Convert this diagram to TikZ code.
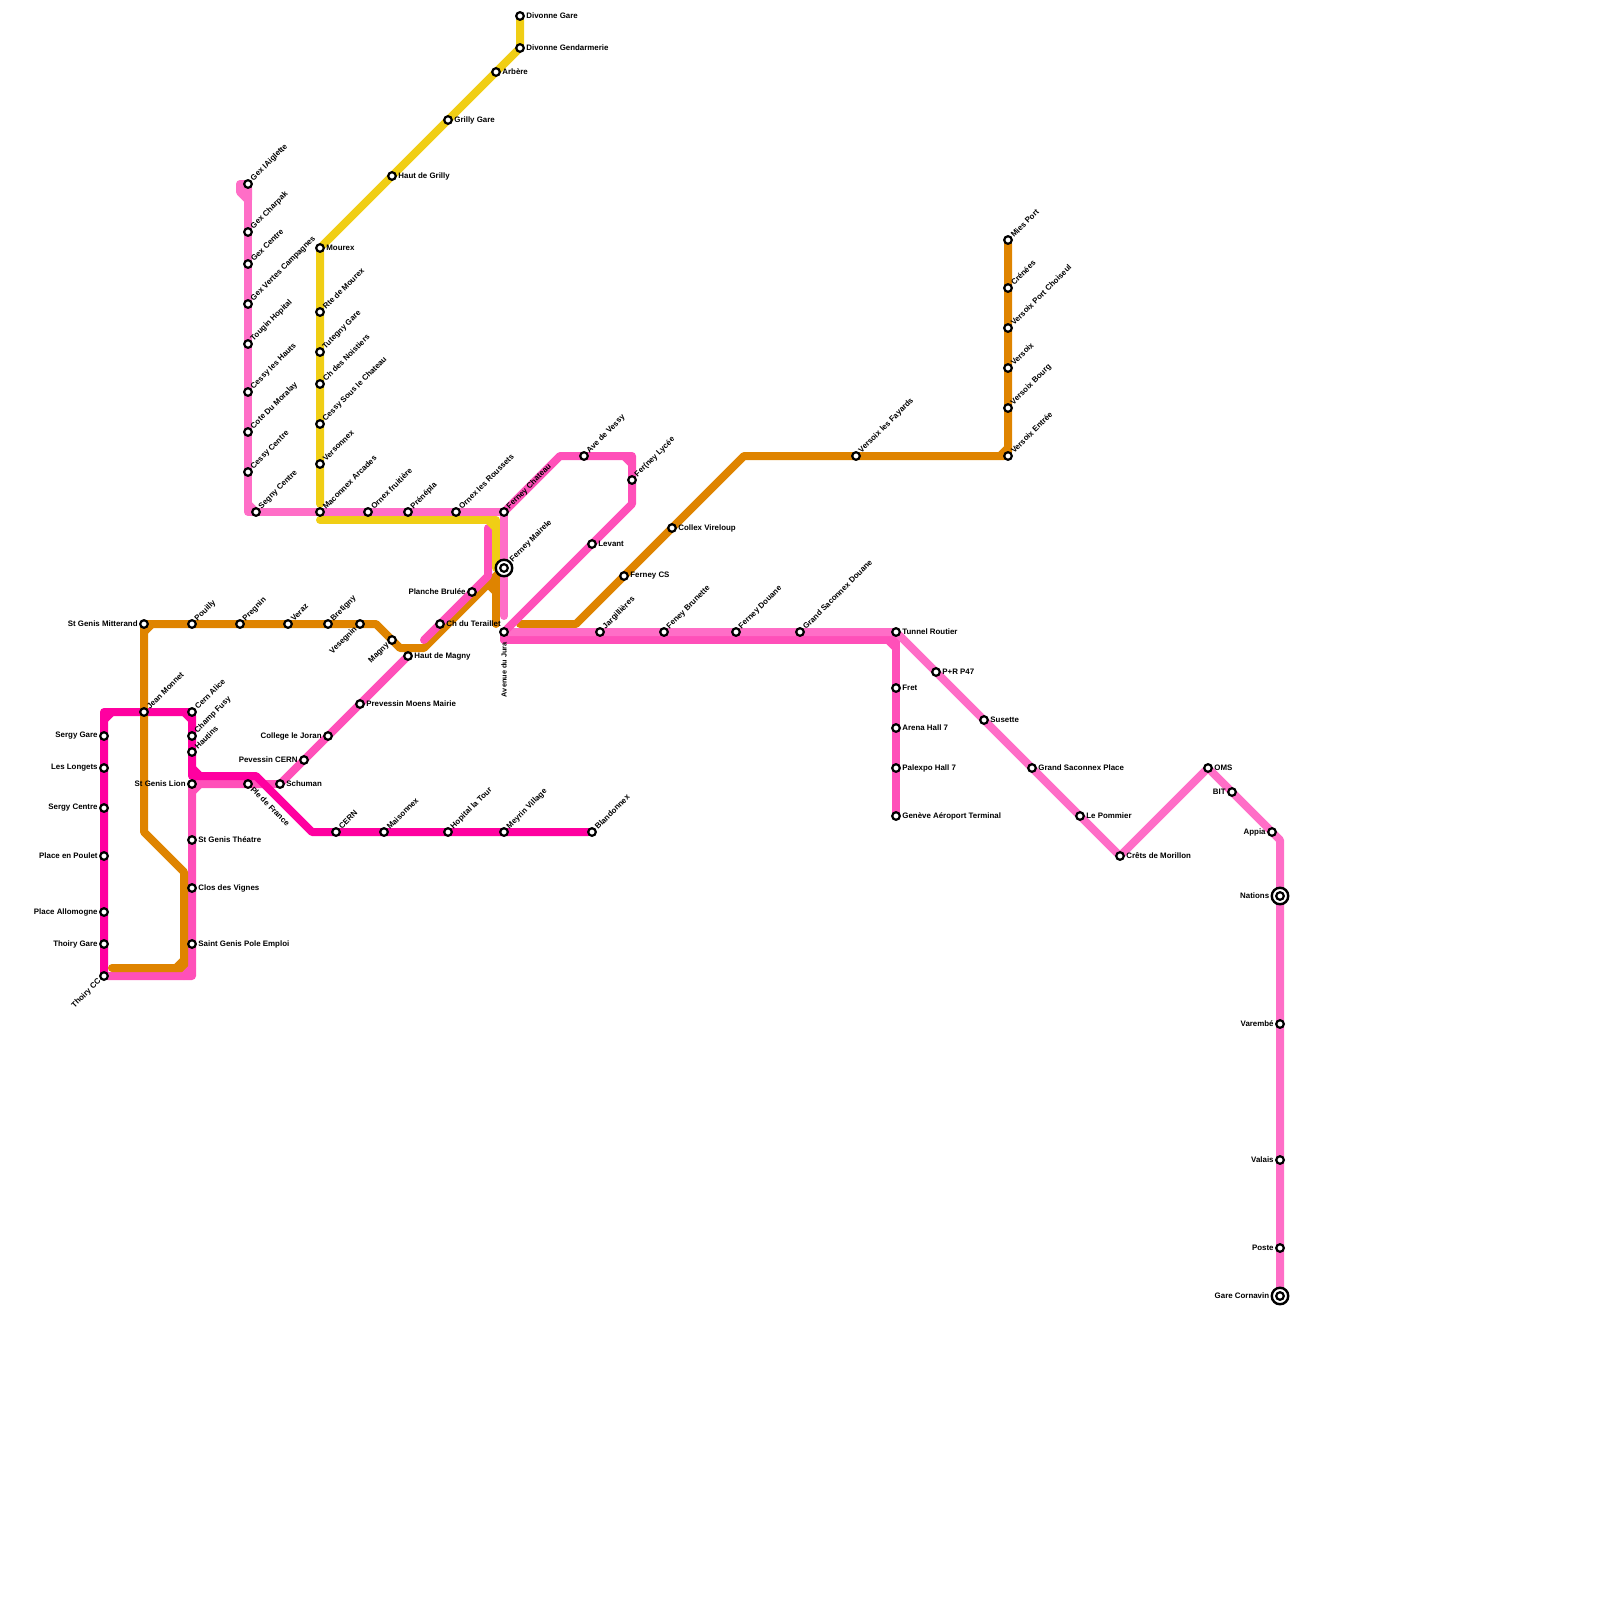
\documentclass[tikz,border=0pt]{standalone}
\usepackage{fontspec}
\setmainfont{Liberation Sans}
\usetikzlibrary{backgrounds}
\definecolor{hotpink}{RGB}{255, 0, 160}
\definecolor{lightpink}{RGB}{255, 110, 199}
\definecolor{midpink}{RGB}{255, 80, 185}
\definecolor{lineorange}{RGB}{223, 132, 0}
\definecolor{lineyellow}{RGB}{240, 206, 21}

\begin{document}
\begin{tikzpicture}[
      x=1pt, y=-1pt,
      stn/.style={circle, draw=black, fill=white, line width=2.2pt,
                  minimum size=7.6pt, inner sep=0pt, outer sep=0pt},
      stnx/.style={stn, minimum size=16.5pt, line width=2.4pt},
      lbl/.style={inner sep=0pt, font=\bfseries\fontsize{7.9}{9}\selectfont},
      lbr/.style={lbl, xshift=2.4pt},
      lbw/.style={lbl, xshift=-2.4pt},
      lbu/.style={lbl, xshift=1.4pt, yshift=1.4pt, rotate=45, anchor=west},
      lbd/.style={lbl, xshift=-1.4pt, yshift=-1.4pt, rotate=45, anchor=east},
      lbs/.style={lbl, xshift=1.2pt, yshift=-1.2pt, rotate=-45, anchor=west},
      lbv/.style={lbl, yshift=-6.5pt, rotate=90, anchor=east,
                  font=\bfseries\fontsize{7.3}{9}\selectfont},
      metro/.style={line width=8pt, line cap=round, line join=round},
      hotline/.style={metro, color=hotpink},
      lightline/.style={metro, color=lightpink},
      midline/.style={metro, color=midpink},
      orangeline/.style={metro, color=lineorange},
      yellowline/.style={metro, color=lineyellow},
  ]
  \useasboundingbox (0,0) rectangle (1600,1600);

  % hot pink line
  \node[stn, label={[lbd]225:Thoiry CC}] (thoirycc) at (104,976) {};
  \node[stn, label={[lbw]left:Thoiry Gare}] (thoirygare) at (104,944) {};
  \node[stn, label={[lbw]left:Place Allomogne}] (allomogne) at (104,912) {};
  \node[stn, label={[lbw]left:Place en Poulet}] (poulet) at (104,856) {};
  \node[stn, label={[lbw]left:Sergy Centre}] (sergycentre) at (104,808) {};
  \node[stn, label={[lbw]left:Les Longets}] (longets) at (104,768) {};
  \node[stn, label={[lbw]left:Sergy Gare}] (sergygare) at (104,736) {};
  \node[stn, label={[lbu]45:Jean Monnet}] (monnet) at (144,712) {};
  \node[stn, label={[lbu]45:Cern Alice}] (cernalice) at (192,712) {};
  \node[stn, label={[lbu]45:Champ Fusy}] (champfusy) at (192,736) {};
  \node[stn, label={[lbu]45:Hautins}] (hautins) at (192,752) {};
  \node[stn, label={[lbu]45:CERN}] (cern) at (336,832) {};
  \node[stn, label={[lbu]45:Maisonnex}] (maisonnex) at (384,832) {};
  \node[stn, label={[lbu]45:Hopital la Tour}] (hopital) at (448,832) {};
  \node[stn, label={[lbu]45:Meyrin Village}] (meyrin) at (504,832) {};
  \node[stn, label={[lbu]45:Blandonnex}] (blandonnex) at (592,832) {};

  % mid pink line, west part
  \node[stn, label={[lbw]left:St Genis Lion}] (genislion) at (192,784) {};
  \node[stn, label={[lbr]right:St Genis Théatre}] (genistheatre) at (192,840) {};
  \node[stn, label={[lbr]right:Clos des Vignes}] (vignes) at (192,888) {};
  \node[stn, label={[lbr]right:Saint Genis Pole Emploi}] (poleemploi) at (192,944) {};
  \node[stn, label={[lbs]-45:Ple de France}] (pledefrance) at (248,784) {};
  \node[stn, label={[lbr]right:Schuman}] (schuman) at (280,784) {};
  \node[stn, label={[lbw]left:Pevessin CERN}] (pevessin) at (304,760) {};
  \node[stn, label={[lbw]left:College le Joran}] (joran) at (328,736) {};
  \node[stn, label={[lbr]right:Prevessin Moens Mairie}] (moens) at (360,704) {};
  \node[stn, label={[lbr]right:Haut de Magny}] (hautmagny) at (408,656) {};
  \node[stn, label={[lbr]right:Ch du Teraillet}] (teraillet) at (440,624) {};
  \node[stn, label={[lbw]left:Planche Brulée}] (planche) at (472,592) {};

  % orange line
  \node[stn, label={[lbw]left:St Genis Mitterand}] (mitterand) at (144,624) {};
  \node[stn, label={[lbu]45:Pouilly}] (pouilly) at (192,624) {};
  \node[stn, label={[lbu]45:Pregnin}] (pregnin) at (240,624) {};
  \node[stn, label={[lbu]45:Veraz}] (veraz) at (288,624) {};
  \node[stn, label={[lbu]45:Bretigny}] (bretigny) at (328,624) {};
  \node[stn, label={[lbd]225:Vesegnin}] (vesegnin) at (360,624) {};
  \node[stn, label={[lbd]225:Magny}] (magny) at (392,640) {};
  \node[stn, label={[lbr]right:Ferney CS}] (ferneycs) at (624,576) {};
  \node[stn, label={[lbr]right:Collex Vireloup}] (collex) at (672,528) {};
  \node[stn, label={[lbu]45:Versoix les Fayards}] (fayards) at (856,456) {};
  \node[stn, label={[lbu]45:Versoix Entrée}] (versoixentree) at (1008,456) {};
  \node[stn, label={[lbu]45:Versoix Bourg}] (versoixbourg) at (1008,408) {};
  \node[stn, label={[lbu]45:Versoix}] (versoix) at (1008,368) {};
  \node[stn, label={[lbu]45:Versoix Port Choiseul}] (choiseul) at (1008,328) {};
  \node[stn, label={[lbu]45:Crénées}] (crenees) at (1008,288) {};
  \node[stn, label={[lbu]45:Mies Port}] (miesport) at (1008,240) {};

  % light pink line
  \node[stn, label={[lbu]45:Gex lAiglette}] (aiglette) at (248,184) {};
  \node[stn, label={[lbu]45:Gex Charpak}] (charpak) at (248,232) {};
  \node[stn, label={[lbu]45:Gex Centre}] (gexcentre) at (248,264) {};
  \node[stn, label={[lbu]45:Gex Vertes Campagnes}] (campagnes) at (248,304) {};
  \node[stn, label={[lbu]45:Tougin Hopital}] (tougin) at (248,344) {};
  \node[stn, label={[lbu]45:Cessy les Hauts}] (cessyhauts) at (248,392) {};
  \node[stn, label={[lbu]45:Cote Du Moralay}] (moralay) at (248,432) {};
  \node[stn, label={[lbu]45:Cessy Centre}] (cessycentre) at (248,472) {};
  \node[stn, label={[lbu]45:Segny Centre}] (segny) at (256,512) {};
  \node[stn, label={[lbu]45:Maconnex Arcades}] (maconnex) at (320,512) {};
  \node[stn, label={[lbu]45:Ornex fruitière}] (fruitiere) at (368,512) {};
  \node[stn, label={[lbu]45:Prénépla}] (prenepla) at (408,512) {};
  \node[stn, label={[lbu]45:Ornex les Roussets}] (roussets) at (456,512) {};
  \node[stn, label={[lbu]45:Ferney Chateau}] (ferneychateau) at (504,512) {};
  \node[stnx, label={[lbu]45:Ferney Mairele}] (ferneymairie) at (504,568) {};
  \node[stn] (ferneymairiein) at (ferneymairie) {};
  \node[stn, label={[lbv]-90:Avenue du Jura}] (jura) at (504,632) {};
  \node[stn, label={[lbu]45:Jargillières}] (jargillieres) at (600,632) {};
  \node[stn, label={[lbu]45:Feney Brunette}] (brunette) at (664,632) {};
  \node[stn, label={[lbu]45:Ferney Douane}] (ferneydouane) at (736,632) {};
  \node[stn, label={[lbu]45:Grand Saconnex Douane}] (saconnexdouane) at (800,632) {};
  \node[stn, label={[lbr]right:Tunnel Routier}] (tunnel) at (896,632) {};
  \node[stn, label={[lbr]right:P+R P47}] (prp) at (936,672) {};
  \node[stn, label={[lbr]right:Susette}] (susette) at (984,720) {};
  \node[stn, label={[lbr]right:Grand Saconnex Place}] (saconnexplace) at (1032,768) {};
  \node[stn, label={[lbr]right:Le Pommier}] (pommier) at (1080,816) {};
  \node[stn, label={[lbr]right:Crêts de Morillon}] (morillon) at (1120,856) {};
  \node[stn, label={[lbr]right:OMS}] (oms) at (1208,768) {};
  \node[stn, label={[lbw]left:BIT}] (bit) at (1232,792) {};
  \node[stn, label={[lbw]left:Appia}] (appia) at (1272,832) {};
  \node[stnx, label={[lbw]left:Nations}] (nations) at (1280,896) {};
  \node[stn] (nationsin) at (nations) {};
  \node[stn, label={[lbw]left:Varembé}] (varembe) at (1280,1024) {};
  \node[stn, label={[lbw]left:Valais}] (valais) at (1280,1160) {};
  \node[stn, label={[lbw]left:Poste}] (poste) at (1280,1248) {};
  \node[stnx, label={[lbw]left:Gare Cornavin}] (cornavin) at (1280,1296) {};
  \node[stn] (cornavinin) at (cornavin) {};

  % mid pink line, east part
  \node[stn, label={[lbr]right:Fret}] (fret) at (896,688) {};
  \node[stn, label={[lbr]right:Arena Hall 7}] (arena) at (896,728) {};
  \node[stn, label={[lbr]right:Palexpo Hall 7}] (palexpo) at (896,768) {};
  \node[stn, label={[lbr]right:Genève Aéroport Terminal}] (aeroport) at (896,816) {};
  \node[stn, label={[lbu]45:Ave de Vessy}] (vessy) at (584,456) {};
  \node[stn, label={[lbu]45:Fer(ney Lycée}] (lycee) at (632,480) {};
  \node[stn, label={[lbr]right:Levant}] (levant) at (592,544) {};

  % yellow line
  \node[stn, label={[lbr]right:Divonne Gare}] (divonnegare) at (520,16) {};
  \node[stn, label={[lbr]right:Divonne Gendarmerie}] (gendarmerie) at (520,48) {};
  \node[stn, label={[lbr]right:Arbère}] (arbere) at (496,72) {};
  \node[stn, label={[lbr]right:Grilly Gare}] (grilly) at (448,120) {};
  \node[stn, label={[lbr]right:Haut de Grilly}] (hautgrilly) at (392,176) {};
  \node[stn, label={[lbr]right:Mourex}] (mourex) at (320,248) {};
  \node[stn, label={[lbu]45:Rte de Mourex}] (rtemourex) at (320,312) {};
  \node[stn, label={[lbu]45:Tutegny Gare}] (tutegny) at (320,352) {};
  \node[stn, label={[lbu]45:Ch des Noistiers}] (noistiers) at (320,384) {};
  \node[stn, label={[lbu]45:Cessy Sous le Chateau}] (souschateau) at (320,424) {};
  \node[stn, label={[lbu]45:Versonnex}] (versonnex) at (320,464) {};

  % bends
  \coordinate (hotA) at (104,712);
  \coordinate (hotB) at (192,776);
  \coordinate (hotC) at (256,776);
  \coordinate (hotD) at (312,832);
  \coordinate (midA) at (192,976);
  \coordinate (midB) at (424,640);
  \coordinate (midC) at (488,576);
  \coordinate (midD) at (488,528);
  \coordinate (midE) at (504,640);
  \coordinate (midF) at (896,640);
  \coordinate (midG) at (632,504);
  \coordinate (midH) at (632,456);
  \coordinate (midI) at (560,456);
  \coordinate (orangeA) at (376,624);
  \coordinate (orangeB) at (400,648);
  \coordinate (orangeC) at (424,648);
  \coordinate (orangeD) at (144,832);
  \coordinate (orangeE) at (184,872);
  \coordinate (orangeF) at (184,968);
  \coordinate (orangeG) at (112,968);
  \coordinate (orangeH) at (496,576);
  \coordinate (orangeI) at (496,624);
  \coordinate (orangeJ) at (520,624);
  \coordinate (orangeK) at (576,624);
  \coordinate (orangeL) at (744,456);
  \coordinate (lightA) at (240,184);
  \coordinate (lightB) at (240,192);
  \coordinate (lightC) at (248,200);
  \coordinate (lightD) at (248,512);
  \coordinate (lightE) at (504,616);
  \coordinate (lightF) at (1280,840);
  \coordinate (yellowA) at (320,504);
  \coordinate (yellowB) at (320,520);
  \coordinate (yellowC) at (496,520);
  \coordinate (yellowD) at (496,568);

  \begin{scope}[on background layer]
    \draw[midline] (hautmagny) -- (schuman) -- (genislion) -- (midA) -- (thoirycc);
    \draw[midline] (genislion) ++(0,8) -- ++(8,-8);
    \draw[hotline] (thoirycc) -- (hotA) -- (cernalice) -- (hotB) -- (hotC) -- (hotD) -- (blandonnex);
    \draw[hotline] (hotA) ++(0,8) -- ++(8,-8);
    \draw[hotline] (cernalice) ++(-8,0) -- ++(8,8);
    \draw[hotline] (hotB) ++(0,-8) -- ++(8,8);
    \draw[orangeline] (orangeG) -- (orangeF) -- (orangeE) -- (orangeD) -- (mitterand) -- (orangeA) -- (orangeB) -- (orangeC) -- (ferneymairie);
    \draw[orangeline] (mitterand) ++(0,8) -- ++(8,-8);
    \draw[orangeline] (orangeF) ++(-8,0) -- ++(8,-8);
    \draw[orangeline] (orangeH) -- (orangeI);
    \draw[orangeline] (orangeH) ++(-8,8) -- ++(8,8);
    \draw[orangeline] (orangeJ) -- (orangeK) -- (orangeL) -- (versoixentree) -- (miesport);
    \draw[orangeline] (versoixentree) ++(-8,0) -- ++(8,-8);
    \draw[midline] (midE) -- (midF) -- (aeroport);
    \draw[midline] (midF) ++(-8,0) -- ++(8,8);
    \draw[lightline] (jura) -- (tunnel) -- (morillon) -- (oms) -- (lightF) -- (cornavin);
    \draw[lightline] (aiglette) -- (lightA) -- (lightB) -- (lightC) -- (aiglette);
    \draw[lightline] (aiglette) -- (lightD) -- (ferneychateau) -- (lightE);
    \draw[lightline] (lightD) ++(0,-8) -- ++(8,8);
    \draw[midline] (midB) -- (midC) -- (midD);
    \draw[midline] (midE) -- (jura) -- (midG) -- (midH) -- (midI) -- (ferneychateau);
    \draw[midline] (midH) ++(-8,0) -- ++(8,8);
    \draw[midline] (midA) ++(-8,0) -- ++(8,-8);
    \draw[yellowline] (divonnegare) -- (gendarmerie) -- (mourex) -- (yellowA);
    \draw[yellowline] (yellowB) -- (yellowC) -- (yellowD);
    \draw[yellowline] (yellowC) ++(-8,0) -- ++(8,8);
  \end{scope}
\end{tikzpicture}
\end{document}
